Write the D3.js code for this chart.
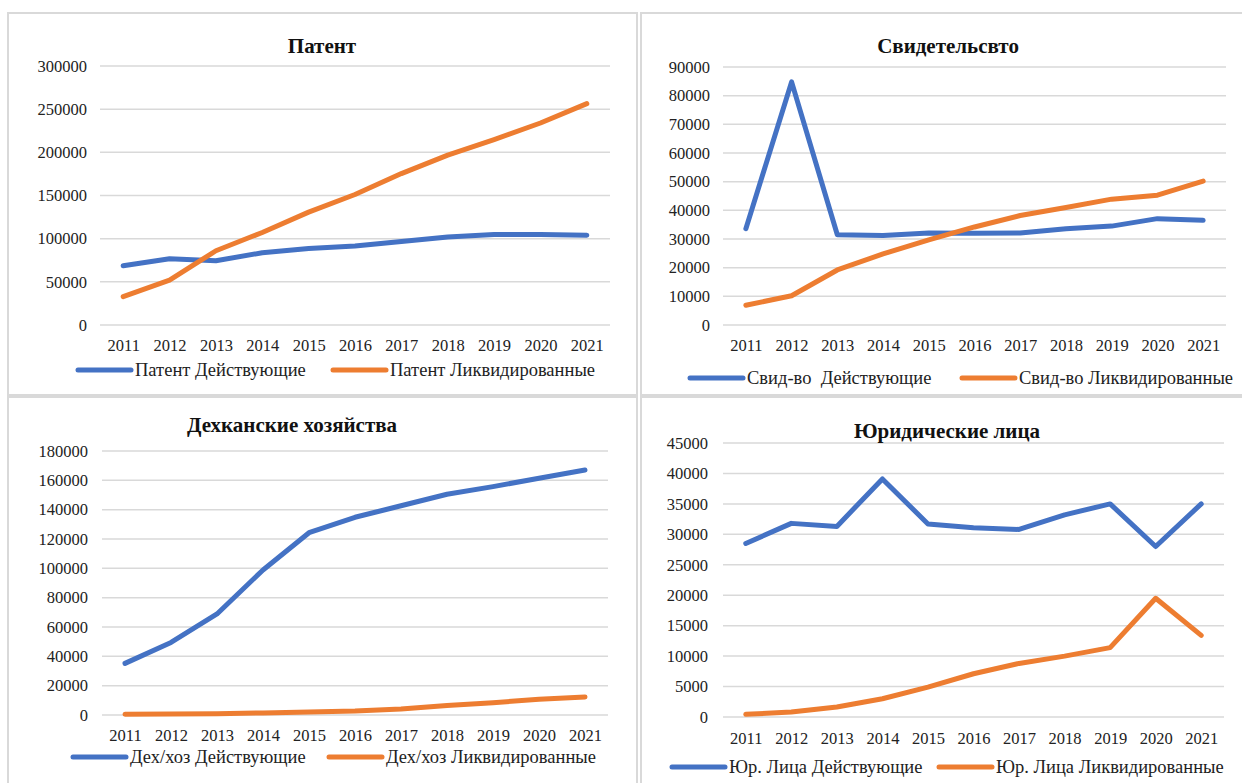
<!DOCTYPE html>
<html lang="ru">
<head>
<meta charset="UTF-8">
<title>Патент, Свидетельство, Дехканские хозяйства, Юридические лица</title>
<script src="https://d3js.org/d3.v7.min.js"></script>
<style>
  body, html { margin: 0; padding: 0; background: #fff; }
  svg { display: block; font-family: "Liberation Serif", "Times New Roman", serif; }
  .grid line { stroke: #d9d9d9; stroke-width: 1.5px; }
  .tick text { font-size: 16.5px; fill: #222; }
  .title { font-size: 21px; font-weight: bold; fill: #111; }
  .legend text { font-size: 18.5px; fill: #222; }
</style>
</head>
<body>
<svg id="chart" width="1242" height="783"></svg>
<script>
const years = ["2011","2012","2013","2014","2015","2016","2017","2018","2019","2020","2021"];

// Патент
const patentActive = [68600, 76700, 74400, 83700, 88700, 91400, 96800, 101800, 104900, 104900, 104100];
const patentClosed = [32800, 52000, 86000, 107200, 130700, 151200, 175400, 196700, 214800, 234000, 256400];
// Свидетельство
const svidActive = [33600, 84800, 31500, 31200, 32100, 32000, 32100, 33600, 34500, 37100, 36500];
const svidClosed = [6900, 10200, 19200, 24800, 29700, 34200, 38200, 41000, 43900, 45300, 50200];
// Дехканские хозяйства
const dehActive = [35200, 49500, 68900, 98900, 124300, 134800, 142700, 150500, 155700, 161400, 167000];
const dehClosed = [500, 700, 900, 1400, 2000, 2700, 4100, 6400, 8400, 10700, 12300];
// Юридические лица
const yurActive = [28500, 31800, 31300, 39100, 31700, 31100, 30800, 33200, 35000, 28000, 35000];
const yurClosed = [440, 820, 1650, 3000, 4900, 7100, 8800, 10000, 11400, 19500, 13400];

const blue = "#4472c4", orange = "#ed7d31";

const panels = [
  { title: "Патент", tx: 322, ty: 46, box: [8, 13, 629, 382],
    x0: 100, x1: 610, yTop: 66, yBot: 325, max: 300000, step: 50000, labX: 87, xLabY: 345,
    series: [patentActive, patentClosed],
    names: ["Патент Действующие", "Патент Ликвидированные"],
    legY: 370, leg: [78, 333] },
  { title: "Свидетельсвто", tx: 948, ty: 46, box: [641, 13, 620, 382],
    x0: 723, x1: 1226, yTop: 67, yBot: 325, max: 90000, step: 10000, labX: 710, xLabY: 345,
    series: [svidActive, svidClosed],
    names: ["Свид-во\u00a0 Действующие", "Свид-во Ликвидированные"],
    legY: 378, leg: [690, 962] },
  { title: "Дехканские хозяйства", tx: 292, ty: 425, box: [8, 397, 629, 400],
    x0: 102, x1: 608, yTop: 451, yBot: 715, max: 180000, step: 20000, labX: 88, xLabY: 735,
    series: [dehActive, dehClosed],
    names: ["Дех/хоз Действующие", "Дех/хоз Ликвидированные"],
    legY: 757, leg: [73, 329] },
  { title: "Юридические лица", tx: 947, ty: 431, box: [641, 397, 620, 400],
    x0: 723, x1: 1224, yTop: 443, yBot: 717, max: 45000, step: 5000, labX: 708, xLabY: 738,
    series: [yurActive, yurClosed],
    names: ["Юр. Лица Действующие", "Юр. Лица Ликвидированные"],
    legY: 767, leg: [672, 939] }
];

const svg = d3.select("#chart");

panels.forEach(p => {
  const g = svg.append("g");

  g.append("rect")
    .attr("x", p.box[0]).attr("y", p.box[1])
    .attr("width", p.box[2]).attr("height", p.box[3])
    .attr("fill", "#fff").attr("stroke", "#d9d9d9").attr("stroke-width", 2);

  const x = d3.scalePoint().domain(years).range([p.x0, p.x1]).padding(0.5);
  const y = d3.scaleLinear().domain([0, p.max]).range([p.yBot, p.yTop]);
  const ticks = d3.range(0, p.max + 1, p.step);

  // gridlines
  g.append("g").attr("class", "grid")
    .selectAll("line").data(ticks).join("line")
    .attr("x1", p.x0).attr("x2", p.x1)
    .attr("y1", d => y(d)).attr("y2", d => y(d));

  // y axis labels
  const ya = g.append("g").attr("transform", `translate(${p.labX},0)`)
    .call(d3.axisLeft(y).tickValues(ticks).tickSize(0).tickPadding(0).tickFormat(d3.format("d")));
  ya.attr("font-family", null).attr("font-size", null);
  ya.select(".domain").remove();

  // x axis labels
  const xa = g.append("g").attr("transform", `translate(0,${p.xLabY})`)
    .call(d3.axisBottom(x).tickSize(0).tickPadding(0));
  xa.attr("font-family", null).attr("font-size", null);
  xa.select(".domain").remove();
  xa.selectAll(".tick text").attr("y", 0).attr("dy", "0.35em");

  const line = d3.line().x((d, i) => x(years[i])).y(d => y(d));
  p.series.forEach((s, k) => {
    g.append("path").datum(s)
      .attr("d", line)
      .attr("fill", "none")
      .attr("stroke", k === 0 ? blue : orange)
      .attr("stroke-width", 5)
      .attr("stroke-linejoin", "round")
      .attr("stroke-linecap", "round");
  });

  g.append("text").attr("class", "title")
    .attr("x", p.tx).attr("y", p.ty).attr("dy", "0.35em")
    .attr("text-anchor", "middle").text(p.title);

  const lg = g.append("g").attr("class", "legend");
  p.names.forEach((n, k) => {
    const lx = p.leg[k];
    lg.append("line")
      .attr("x1", lx).attr("x2", lx + 53)
      .attr("y1", p.legY).attr("y2", p.legY)
      .attr("stroke", k === 0 ? blue : orange)
      .attr("stroke-width", 5).attr("stroke-linecap", "round");
    lg.append("text")
      .attr("x", lx + 57).attr("y", p.legY).attr("dy", "0.35em")
      .text(n);
  });
});
</script>
</body>
</html>
